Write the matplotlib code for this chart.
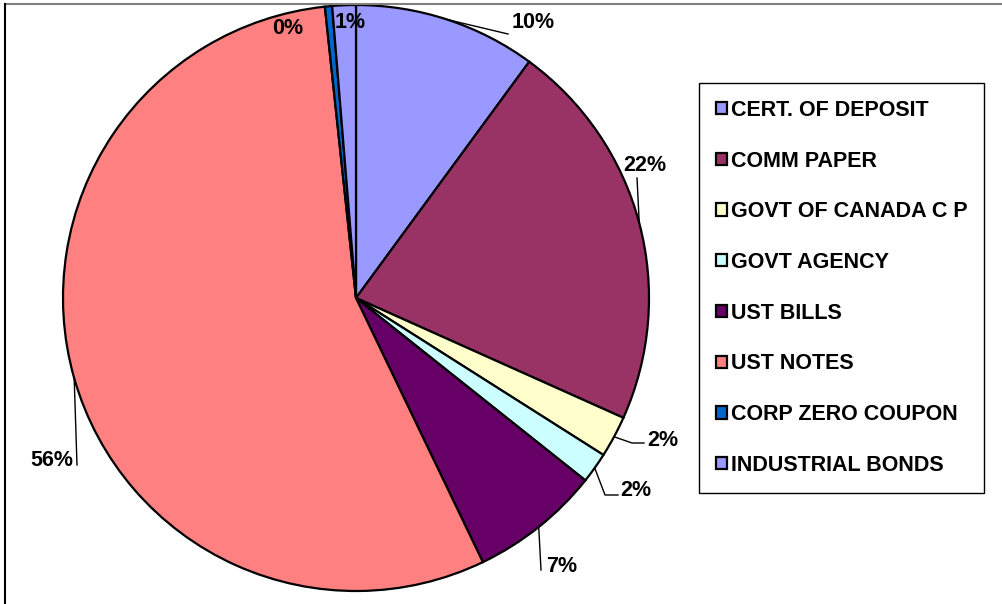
import numpy as np
import matplotlib
matplotlib.use('Agg')
import matplotlib.pyplot as plt

plt.rcParams['font.family'] = ['Liberation Sans', 'DejaVu Sans']
plt.rcParams['font.weight'] = 'bold'

# data
categories = ['CERT. OF DEPOSIT', 'COMM PAPER', 'GOVT OF CANADA C P', 'GOVT AGENCY',
              'UST BILLS', 'UST NOTES', 'CORP ZERO COUPON', 'INDUSTRIAL BONDS']
shares = [10.1, 21.7, 2.3, 1.7, 7.2, 55.6, 0.4, 1.3]
pct_labels = ['10%', '22%', '2%', '2%', '7%', '56%', '0%', '1%']
colors = ['#9999FF', '#993366', '#FFFFCC', '#CCFFFF', '#660066', '#FF8080', '#0066CC', '#9999FF']

W, H = 1003, 604
fig = plt.figure(figsize=(W / 100, H / 100), dpi=100)
ax = fig.add_axes([0, 0, 1, 1])

cx, cy, r = 356, H - 298, 293
wedges, _ = ax.pie(shares, colors=colors, startangle=90, counterclock=False,
                   center=(cx, cy), radius=r, frame=True,
                   wedgeprops=dict(edgecolor='black', linewidth=1.6))
ax.set_xlim(0, W)
ax.set_ylim(0, H)
ax.set_aspect('equal')
ax.axis('off')

# label placement (pixel coords, y measured from top) and leader line bends
label_pos = [(533, 22), (645, 165), (663, 440), (636, 491), (562, 566), (52, 460), (288, 28), (350, 22)]
leaders = [[(508, 34)], [(637, 178)], [(632, 443), (644, 443)], [(605, 495), (618, 495)],
           [(541, 570)], [(77, 465)], None, None]

for w, lab, pos, bend in zip(wedges, pct_labels, label_pos, leaders):
    ang = np.deg2rad((w.theta1 + w.theta2) / 2)
    if bend is not None:
        x0, y0 = cx + r * np.cos(ang), cy + r * np.sin(ang)
        xs = [x0] + [p[0] for p in bend]
        ys = [y0] + [H - p[1] for p in bend]
        ax.plot(xs, ys, color='black', lw=1.0)
    ax.text(pos[0], H - pos[1], lab, ha='center', va='center', fontsize=15.5, fontweight='bold')

# chart area border (only top and left visible)
ax.plot([5, W], [H - 4, H - 4], color='#808080', lw=1.5)
ax.plot([5.5, 5.5], [0, H - 4], color='black', lw=1.5)

leg = ax.legend(wedges, categories, loc='upper left', bbox_to_anchor=(699 / W, 1 - 83 / H),
                frameon=True, fancybox=False, edgecolor='black', framealpha=1,
                prop=dict(size=15.5, weight='bold'), handlelength=0.5, handleheight=0.5,
                handletextpad=0.2, labelspacing=1.38, borderpad=0.78, borderaxespad=0)
leg.get_frame().set_linewidth(1.0)

fig.savefig('out.png', dpi=100)
